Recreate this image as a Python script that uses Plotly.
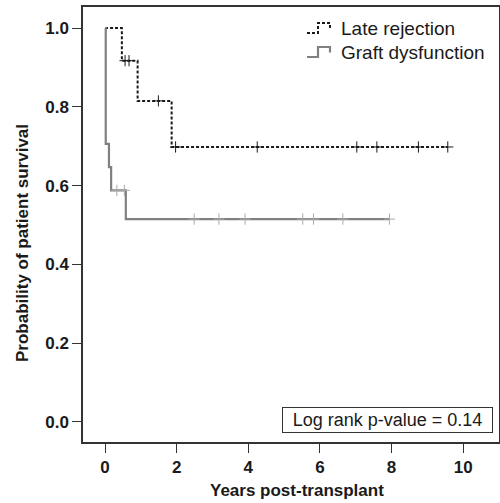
import plotly.graph_objects as go

# ---- Data ----
late_times = [0.0, 0.47, 0.91, 1.86, 9.57]
late_surv = [1.0, 0.917, 0.815, 0.698, 0.698]
late_cens_times = [0.56, 0.67, 1.49, 1.97, 4.25, 7.03, 7.59, 8.75, 9.57]

graft_times = [0.0, 0.02, 0.11, 0.17, 0.58, 7.94]
graft_surv = [1.0, 0.706, 0.647, 0.588, 0.515, 0.515]
graft_cens_times = [0.33, 0.54, 2.49, 3.18, 3.91, 5.52, 5.82, 6.64, 7.94]

series_names = ["Late rejection", "Graft dysfunction"]
x_ticks = [0, 2, 4, 6, 8, 10]
y_ticks = [0.0, 0.2, 0.4, 0.6, 0.8, 1.0]
y_tick_labels = ["0.0", "0.2", "0.4", "0.6", "0.8", "1.0"]
x_title = "Years post-transplant"
y_title = "Probability of patient survival"
p_value_text = "Log rank p-value = 0.14"

BLACK = "#1a1a1a"
GRAY = "#808080"
GRAY_CENS = "#aaaaaa"
FONT = "Liberation Sans, Arial, sans-serif"

# layout geometry (pixels)
W, H = 500, 503
ML, MR, MT, MB = 83, 1, 7, 61
PW, PH = W - ML - MR, H - MT - MB


def px_x(px):
    return (px - ML) / PW


def px_y(py):
    return (H - MB - py) / PH


def step_lookup(times, surv, t):
    val = surv[0]
    for ti, si in zip(times, surv):
        if ti <= t:
            val = si
    return val


fig = go.Figure()

# Late rejection
fig.add_trace(go.Scatter(
    x=late_times, y=late_surv, mode="lines", line_shape="hv",
    line=dict(color=BLACK, width=2, dash="3px,2px"),
    name=series_names[0], showlegend=False))
fig.add_trace(go.Scatter(
    x=late_cens_times, y=[step_lookup(late_times, late_surv, t) for t in late_cens_times],
    mode="markers", marker=dict(symbol="cross-thin", size=8, line=dict(color=BLACK, width=1)),
    showlegend=False, hoverinfo="skip"))

# Graft dysfunction
fig.add_trace(go.Scatter(
    x=graft_times, y=graft_surv, mode="lines", line_shape="hv",
    line=dict(color=GRAY, width=2.2),
    name=series_names[1], showlegend=False))
fig.add_trace(go.Scatter(
    x=graft_cens_times, y=[step_lookup(graft_times, graft_surv, t) for t in graft_cens_times],
    mode="markers", marker=dict(symbol="cross-thin", size=8, line=dict(color=GRAY_CENS, width=1)),
    showlegend=False, hoverinfo="skip"))

# p-value box
fig.add_annotation(
    x=7.9, y=0.005, xref="x", yref="y", text=p_value_text, showarrow=False,
    font=dict(family=FONT, size=18, color=BLACK),
    bordercolor="#333333", borderwidth=1, bgcolor="white",
    width=207, height=22, align="center")

# axis titles
fig.add_annotation(x=px_x(296.5), y=px_y(490), xref="paper", yref="paper",
                   text=f"<b>{x_title}</b>", showarrow=False,
                   xanchor="center", yanchor="middle",
                   font=dict(family=FONT, size=17, color=BLACK))
fig.add_annotation(x=px_x(22), y=px_y(243), xref="paper", yref="paper",
                   text=f"<b>{y_title}</b>", showarrow=False, textangle=-90,
                   xanchor="center", yanchor="middle",
                   font=dict(family=FONT, size=17, color=BLACK))

# legend (text + step glyphs)
legend_rows = [(series_names[0], 28.5, BLACK, "dot"), (series_names[1], 52.5, GRAY, "solid")]
for name, cy, col, dash in legend_rows:
    fig.add_annotation(x=px_x(339), y=px_y(cy), xref="paper", yref="paper",
                       text=name, showarrow=False, xanchor="left", yanchor="middle",
                       font=dict(family=FONT, size=19, color=BLACK))
    pts = [(307, cy + 4.5), (318, cy + 4.5), (318, cy - 5.5), (330, cy - 5.5), (330, cy)]
    path = "M " + " L ".join(f"{px_x(a):.5f},{px_y(b):.5f}" for a, b in pts)
    fig.add_shape(type="path", path=path, xref="paper", yref="paper",
                  line=dict(color=col, width=2 if dash == "dot" else 2.2,
                            dash="3px,2px" if dash == "dot" else "solid"))

fig.update_layout(
    width=W, height=H,
    margin=dict(l=ML, r=MR, t=MT, b=MB),
    paper_bgcolor="white", plot_bgcolor="white",
    font=dict(family=FONT, color=BLACK),
    showlegend=False,
    xaxis=dict(range=[-0.615, 11.0], tickvals=x_ticks, ticks="outside", ticklen=9,
               tickcolor="#333", tickwidth=1.2, automargin=False,
               showline=True, mirror=True, linecolor="#333", linewidth=1.5,
               showgrid=False, zeroline=False,
               tickfont=dict(family=FONT, size=17, color=BLACK, weight="bold")),
    yaxis=dict(range=[-0.0508, 1.0533], tickvals=y_ticks, ticktext=y_tick_labels,
               ticks="outside", ticklen=9, tickcolor="#333", tickwidth=1.2,
               showline=True, mirror=True, linecolor="#333", linewidth=1.5,
               showgrid=False, zeroline=False, automargin=False,
               tickfont=dict(family=FONT, size=17, color=BLACK, weight="bold")),
)

fig.write_html("out.html", config={"displayModeBar": False},
               post_script="document.body.style.margin='0px';")
